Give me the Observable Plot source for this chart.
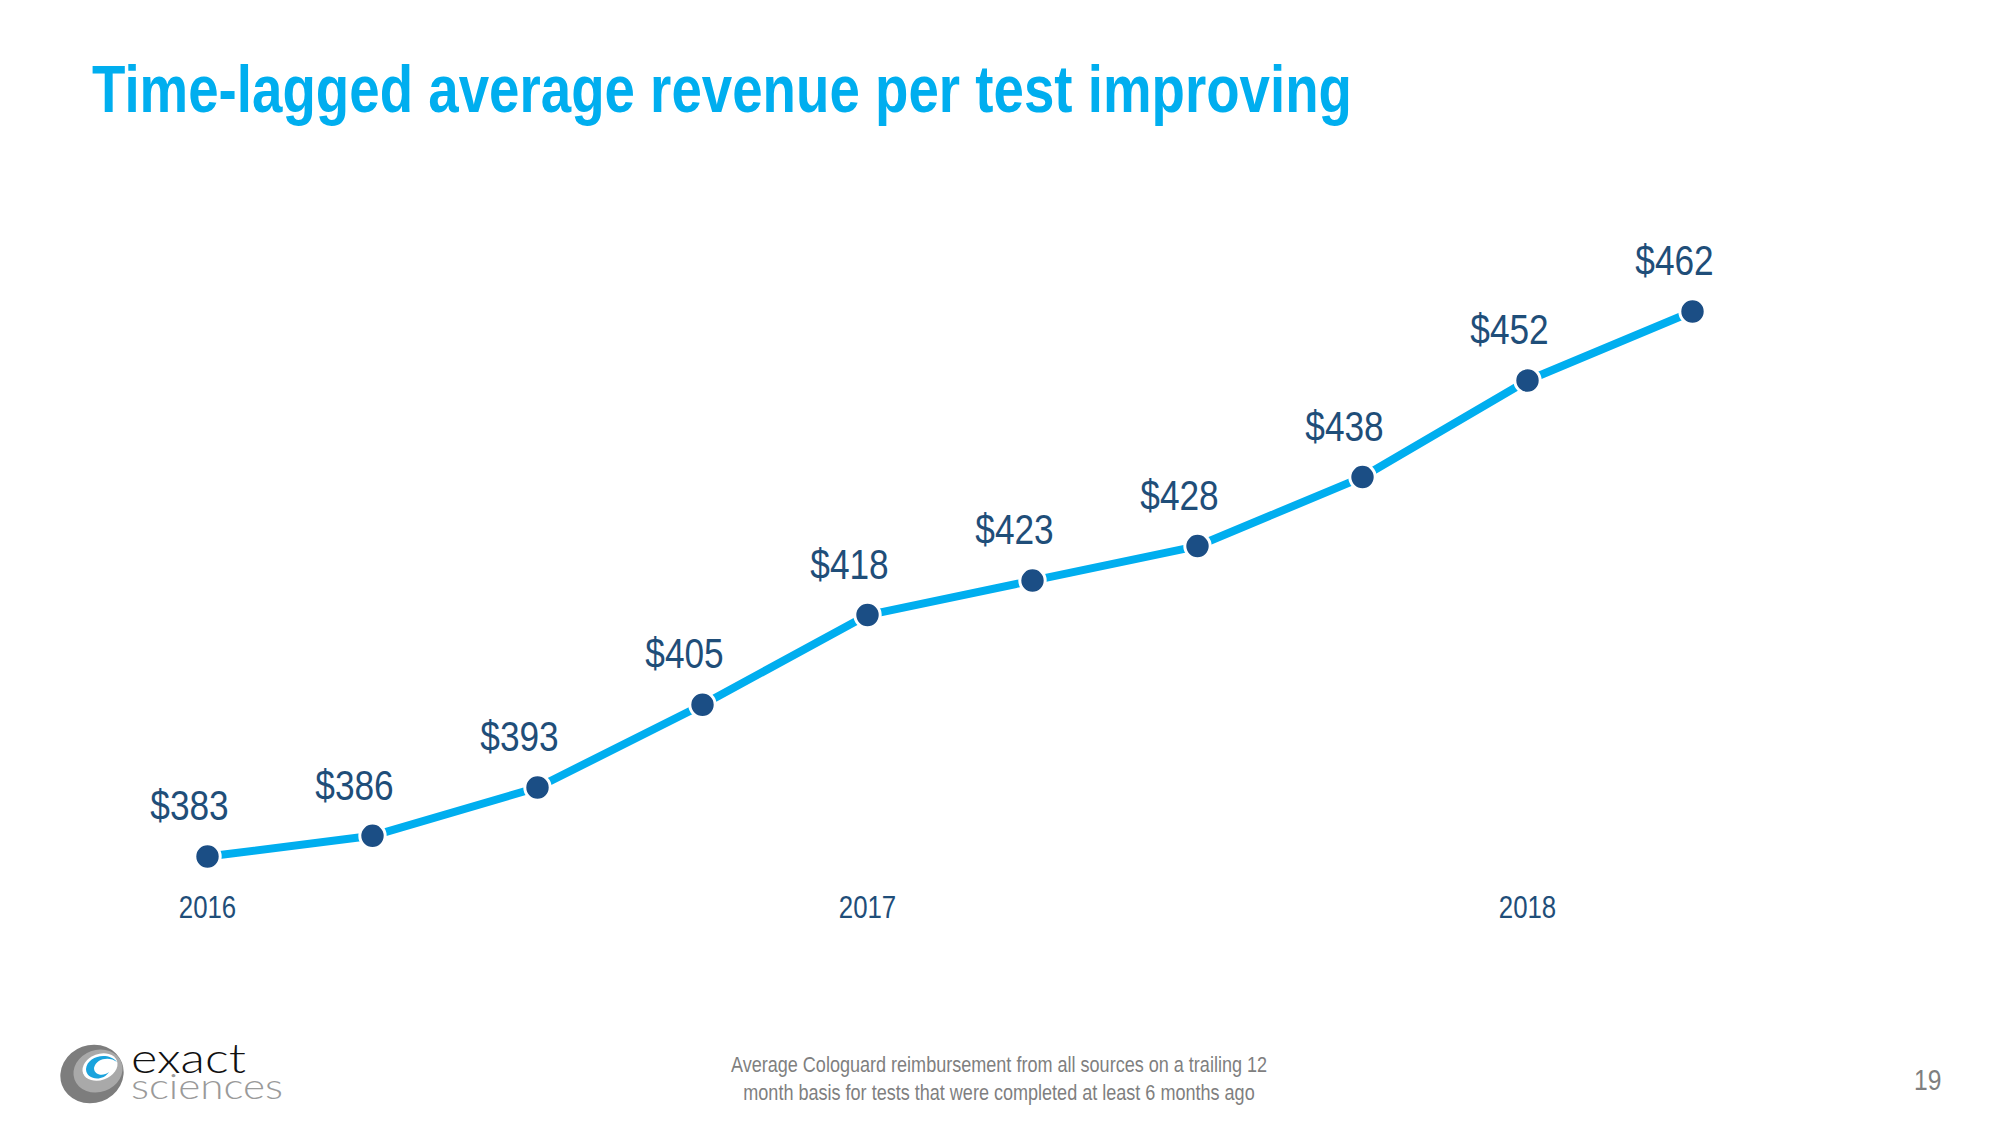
<!DOCTYPE html>
<html>
<head>
<meta charset="utf-8">
<script src="https://cdn.jsdelivr.net/npm/d3@7"></script>
<script src="https://cdn.jsdelivr.net/npm/@observablehq/plot@0.6"></script>
<style>
  html, body { margin: 0; padding: 0; background: #fff; }
  body { width: 2000px; height: 1125px; position: relative; overflow: hidden;
         font-family: "Liberation Sans", Arial, sans-serif; }
  #title { position: absolute; left: 92px; top: 55px; margin: 0; font-size: 67.5px; line-height: 1;
           font-weight: bold; color: #00AEEF; white-space: nowrap;
           transform: scaleX(0.81); transform-origin: 0 0; }
  #chart { position: absolute; left: 0; top: 150px; }
  #caption { position: absolute; left: 499px; width: 1000px; top: 1051px; text-align: center;
             font-size: 22px; line-height: 28px; color: #7F7F7F; white-space: nowrap;
             transform: scaleX(0.82); transform-origin: 50% 0; }
  #page { position: absolute; left: 1914px; top: 1065px; font-size: 30px; line-height: 1; color: #7F7F7F;
          transform: scaleX(0.82); transform-origin: 0 0; }
  #logo { position: absolute; left: 56px; top: 1038px; }
</style>
</head>
<body>
<div id="title">Time-lagged average revenue per test improving</div>
<div id="chart"></div>
<div id="caption">Average Cologuard reimbursement from all sources on a trailing 12<br>month basis for tests that were completed at least 6 months ago</div>
<div id="page">19</div>
<svg id="logo" width="240" height="70" viewBox="0 0 240 70">
  <ellipse cx="36" cy="36" rx="32" ry="29" fill="#7d7d7d" transform="rotate(-20 36 36)"/>
  <ellipse cx="42" cy="33" rx="25" ry="21" fill="#a9a9a9" transform="rotate(-20 42 33)"/>
  <ellipse cx="44" cy="29" rx="18" ry="13" fill="#fff" transform="rotate(-20 44 29)"/>
  <path d="M30 31 C 31 18, 52 13, 61 24 C 54 18, 40 20, 38 30 C 38 37, 47 39, 53 34 C 47 44, 30 42, 30 31 Z" fill="#1AA3DD"/>
  <ellipse cx="46" cy="28" rx="7" ry="5" fill="#fff" transform="rotate(-20 46 28)"/>
  <text x="75" y="35" font-family="Lato, 'Open Sans', sans-serif" font-weight="300" font-size="42" fill="#111" textLength="115" lengthAdjust="spacingAndGlyphs">exact</text>
  <text x="75" y="61" font-family="Lato, 'Open Sans', sans-serif" font-weight="300" font-size="35" fill="#9a9a9a" textLength="152" lengthAdjust="spacingAndGlyphs">sciences</text>
</svg>
<script>
// ---- data ----
const quarters = ["2016 Q1", "2016 Q2", "2016 Q3", "2016 Q4", "2017 Q1", "2017 Q2", "2017 Q3", "2017 Q4", "2018 Q1", "2018 Q2"];
const revenue = [383, 386, 393, 405, 418, 423, 428, 438, 452, 462];
const yearTicks = ["2016 Q1", "2017 Q1", "2018 Q1"];
const yearLabels = ["2016", "2017", "2018"];

const data = quarters.map((q, i) => ({q, v: revenue[i]}));

const chart = Plot.plot({
  width: 2000,
  height: 850,
  marginLeft: 203,
  marginRight: 305,
  marginTop: 161,
  marginBottom: 144,
  style: {fontFamily: '"Liberation Sans", Arial, sans-serif', background: "transparent"},
  x: {type: "point", domain: quarters, padding: 0, axis: null},
  y: {domain: [d3.min(revenue), d3.max(revenue)], axis: null},
  marks: [
    Plot.axisX(yearTicks, {
      tickFormat: d => yearLabels[yearTicks.indexOf(d)],
      tickSize: 0, tickPadding: 39, fontSize: 31.5, fill: "#1F4E79", label: null
    }),
    Plot.line(data, {x: "q", y: "v", stroke: "#00AEEF", strokeWidth: 8}),
    Plot.dot(data, {x: "q", y: "v", r: 12.7, fill: "#1B4E85", stroke: "#fff", strokeWidth: 3}),
    Plot.text(data, {x: "q", y: "v", text: d => "$" + d.v, dx: -18, dy: -50, fontSize: 43, fill: "#1F4E79"})
  ]
});
// condense text to mimic a narrow typeface
chart.querySelectorAll("text").forEach(el => {
  const t = el.getAttribute("transform") || "";
  el.setAttribute("transform", (t + " scale(0.82,1)").trim());
});
document.getElementById("chart").appendChild(chart);
</script>
</body>
</html>
